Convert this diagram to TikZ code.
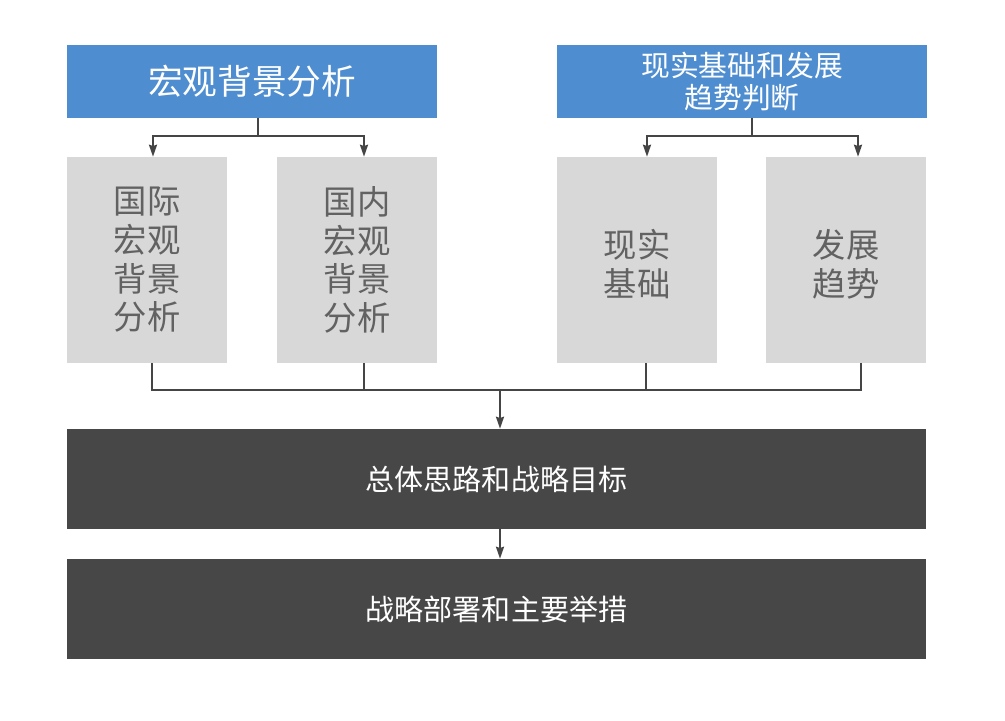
\documentclass[tikz,border=0pt]{standalone}
\usepackage{fontspec}
\newfontfamily\cjk{Noto Sans CJK SC}
\usetikzlibrary{arrows.meta,positioning,calc}
\definecolor{headblue}{HTML}{4E8DD0}
\definecolor{boxgray}{HTML}{D8D8D8}
\definecolor{darkbar}{HTML}{474747}
\definecolor{textgray}{HTML}{626262}
\definecolor{linegray}{HTML}{454545}

\begin{document}
\begin{tikzpicture}[
    x=0.75pt, y=-0.75pt,
    font=\cjk,
    head_box/.style={fill=headblue, text=white, rectangle, inner sep=0pt, align=center, minimum width=277.5pt, minimum height=54.75pt},
    item_box/.style={fill=boxgray, text=textgray, rectangle, inner sep=0pt, align=center, minimum width=120pt, minimum height=154.5pt, font=\cjk\fontsize{25}{29}\selectfont},
    bar_box/.style={fill=darkbar, text=white, rectangle, inner sep=0pt, align=center, minimum width=644.25pt, minimum height=75pt, font=\cjk\fontsize{21.8}{24}\selectfont},
    link/.style={draw=linegray, line width=1.5pt},
    arr/.style={link, -{Stealth[length=9pt, width=6pt, inset=1pt]}}
]
\useasboundingbox (0,0) rectangle (1005,720);

\node[head_box, font=\cjk\fontsize{26}{28}\selectfont] (macro) at (252,81.5) {宏观背景分析};
\node[head_box, font=\cjk\fontsize{21.6}{24}\selectfont] (basis) at (742,81.5) {现实基础和发展\\趋势判断};

\node[item_box] (intl) at (147,260) {国际\\宏观\\背景\\分析};
\node[item_box] (dom) at (357,260) {国内\\宏观\\背景\\分析};
\node[item_box, text depth=0pt, text height=54.5pt] (real) at (637,260) {现实\\基础};
\node[item_box, text depth=0pt, text height=54.5pt] (trend) at (846,260) {发展\\趋势};

\node[bar_box] (goal) at (496.5,479) {总体思路和战略目标};
\node[bar_box] (plan) at (496.5,609) {战略部署和主要举措};

\coordinate (busL) at (258,136);
\coordinate (busR) at (752,136);
\coordinate (busB) at (500,390);

\draw[link] (macro.south -| busL) -- (busL);
\draw[arr] (busL) -| ([xshift=4.5pt]intl.north);
\draw[arr] (busL) -| ([xshift=5.25pt]dom.north);
\draw[link] (basis.south -| busR) -- (busR);
\draw[arr] (busR) -| ([xshift=7.5pt]real.north);
\draw[arr] (busR) -| ([xshift=9pt]trend.north);

\draw[link] ([xshift=3.75pt]intl.south) |- (busB);
\draw[link] ([xshift=5.25pt]dom.south) |- (busB);
\draw[link] ([xshift=6.75pt]real.south) |- (busB);
\draw[link] ([xshift=11.25pt]trend.south) |- (busB);
\draw[arr] (busB) -- (busB |- goal.north);
\draw[arr] (busB |- goal.south) -- (busB |- plan.north);

\end{tikzpicture}
\end{document}
